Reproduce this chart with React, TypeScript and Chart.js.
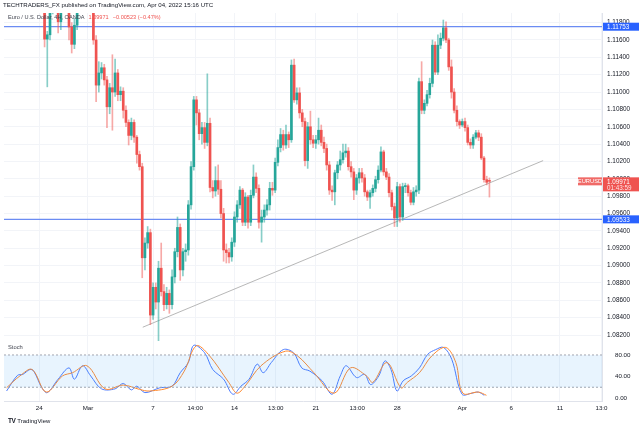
import React, { useEffect, useRef } from 'react';
import { Chart, registerables } from 'chart.js';

Chart.register(...registerables);

// ---------- DATA (4H candles, EUR/USD OANDA) ----------
const opens = [
  1.1330, 1.1325, 1.1337, 1.1348, 1.1340, 1.1328, 1.1338, 1.1330, 1.1345, 1.1325,
  1.1305, 1.1310, 1.1285, 1.1250, 1.1210, 1.1161, 1.1166, 1.1195, 1.1215, 1.1205,
  1.1181, 1.1200, 1.1228, 1.1240, 1.1175, 1.1155, 1.1177, 1.1200, 1.1228, 1.1222,
  1.1210, 1.1218, 1.1205, 1.1160, 1.1108, 1.1122, 1.1128, 1.1114, 1.1083, 1.1105,
  1.1100, 1.1122, 1.1097, 1.1101, 1.1079, 1.1065, 1.1050, 1.1065, 1.1048, 1.1028,
  1.1014, 1.0909, 1.0926, 1.0938, 1.0843, 1.0875, 1.0858, 1.0897, 1.0870, 1.0855,
  1.0868, 1.0855, 1.0887, 1.0916, 1.0944, 1.0895, 1.0916, 1.0918, 1.0970, 1.1014,
  1.1091, 1.1076, 1.1052, 1.1059, 1.1042, 1.1064, 1.0990, 1.0986, 1.0998, 1.0988,
  1.0960, 1.0918, 1.0915, 1.0910, 1.0927, 1.0956, 1.0970, 1.0987, 1.0950, 1.0979,
  1.0950, 1.0981, 1.1002, 1.0989, 1.0950, 1.0956, 1.0964, 1.0970, 1.0989, 1.0987,
  1.1019, 1.1036, 1.1051, 1.1039, 1.1051, 1.1045, 1.1131, 1.1091, 1.1099, 1.1076,
  1.1066, 1.1021, 1.1060, 1.1045, 1.1041, 1.1045, 1.1056, 1.1042, 1.1035, 1.1016,
  1.0987, 1.0985, 1.1007, 1.1016, 1.1022, 1.1030, 1.1032, 1.1014, 1.1008, 1.0987,
  1.1001, 1.1007, 1.1001, 1.0985, 1.0979, 1.0984, 1.0989, 1.0999, 1.1010, 1.1031,
  1.1008, 1.1002, 1.0984, 1.0968, 1.0955, 1.0991, 1.0956, 1.0991, 1.0992, 1.0984,
  1.0973, 1.0985, 1.0987, 1.1112, 1.1079, 1.1087, 1.1097, 1.1110, 1.1154, 1.1123,
  1.1154, 1.1162, 1.1174, 1.1160, 1.1129, 1.1100, 1.1079, 1.1066, 1.1062, 1.1066,
  1.1059, 1.1042, 1.1039, 1.1048, 1.1053, 1.1048, 1.1024, 1.0999, 1.0998,
];
const highs = [
  1.1345, 1.1340, 1.1355, 1.1360, 1.1350, 1.1342, 1.1350, 1.1348, 1.1352, 1.1330,
  1.1318, 1.1315, 1.1295, 1.1262, 1.1225, 1.1170, 1.1205, 1.1225, 1.1240, 1.1212,
  1.1215, 1.1235, 1.1250, 1.1255, 1.1180, 1.1185, 1.1212, 1.1235, 1.1245, 1.1235,
  1.1225, 1.1230, 1.1215, 1.1165, 1.1135, 1.1134, 1.1132, 1.1118, 1.1110, 1.1143,
  1.1138, 1.1126, 1.1106, 1.1105, 1.1084, 1.1068, 1.1070, 1.1068, 1.1050, 1.1032,
  1.1018, 1.0932, 1.0945, 1.0942, 1.0880, 1.0880, 1.0905, 1.0926, 1.0878, 1.0875,
  1.0872, 1.0895, 1.0920, 1.0956, 1.0948, 1.0920, 1.0925, 1.0975, 1.1020, 1.1095,
  1.1095, 1.1080, 1.1065, 1.1065, 1.1121, 1.1070, 1.0998, 1.1014, 1.1016, 1.0998,
  1.0966, 1.0925, 1.0920, 1.0932, 1.0962, 1.0975, 1.0991, 1.0989, 1.0984, 1.0981,
  1.0987, 1.1016, 1.1007, 1.0993, 1.0964, 1.0970, 1.0976, 1.0996, 1.0996, 1.1024,
  1.1045, 1.1058, 1.1056, 1.1062, 1.1054, 1.1137, 1.1138, 1.1105, 1.1105, 1.1080,
  1.1070, 1.1065, 1.1078, 1.1050, 1.1050, 1.1070, 1.1062, 1.1048, 1.1040, 1.1020,
  1.0992, 1.1010, 1.1020, 1.1032, 1.1040, 1.1040, 1.1036, 1.1020, 1.1012, 1.1005,
  1.1012, 1.1012, 1.1005, 1.0987, 1.0987, 1.0993, 1.1003, 1.1015, 1.1037, 1.1033,
  1.1012, 1.1006, 1.0987, 1.0972, 1.0996, 1.0994, 1.0995, 1.0995, 1.0994, 1.0987,
  1.0990, 1.0992, 1.1116, 1.1135, 1.1091, 1.1102, 1.1116, 1.1160, 1.1158, 1.1166,
  1.1168, 1.1183, 1.1181, 1.1162, 1.1137, 1.1104, 1.1084, 1.1068, 1.1069, 1.1070,
  1.1062, 1.1046, 1.1051, 1.1056, 1.1056, 1.1052, 1.1026, 1.1003, 1.1001,
];
const lows = [
  1.1318, 1.1320, 1.1330, 1.1335, 1.1322, 1.1318, 1.1325, 1.1326, 1.1320, 1.1298,
  1.1290, 1.1275, 1.1240, 1.1195, 1.1152, 1.1106, 1.1160, 1.1190, 1.1200, 1.1168,
  1.1172, 1.1195, 1.1215, 1.1160, 1.1145, 1.1150, 1.1172, 1.1195, 1.1215, 1.1200,
  1.1198, 1.1195, 1.1155, 1.1089, 1.1100, 1.1115, 1.1108, 1.1059, 1.1075, 1.1056,
  1.1095, 1.1090, 1.1090, 1.1070, 1.1060, 1.1039, 1.1045, 1.1042, 1.1018, 1.1010,
  1.0886, 1.0895, 1.0920, 1.0832, 1.0838, 1.0850, 1.0808, 1.0865, 1.0848, 1.0850,
  1.0845, 1.0850, 1.0880, 1.0910, 1.0883, 1.0888, 1.0905, 1.0912, 1.0965, 1.1010,
  1.1062, 1.1045, 1.1040, 1.1035, 1.1038, 1.0985, 1.0978, 1.0980, 1.0982, 1.0955,
  1.0905, 1.0903, 1.0903, 1.0905, 1.0922, 1.0950, 1.0966, 1.0946, 1.0946, 1.0943,
  1.0946, 1.0978, 1.0984, 1.0943, 1.0927, 1.0950, 1.0958, 1.0964, 1.0981, 1.0984,
  1.1015, 1.1031, 1.1033, 1.1035, 1.1036, 1.1042, 1.1088, 1.1086, 1.1070, 1.1060,
  1.1015, 1.1012, 1.1040, 1.1036, 1.1035, 1.1040, 1.1038, 1.1030, 1.1010, 1.0982,
  1.0975, 1.0970, 1.1000, 1.1010, 1.1018, 1.1025, 1.1010, 1.1002, 1.0976, 1.0982,
  1.0995, 1.0996, 1.0980, 1.0975, 1.0966, 1.0980, 1.0985, 1.0995, 1.1008, 1.1004,
  1.0999, 1.0979, 1.0964, 1.0945, 1.0945, 1.0950, 1.0952, 1.0984, 1.0980, 1.0970,
  1.0970, 1.0980, 1.0983, 1.1075, 1.1075, 1.1084, 1.1093, 1.1106, 1.1120, 1.1120,
  1.1150, 1.1159, 1.1157, 1.1125, 1.1093, 1.1076, 1.1061, 1.1058, 1.1060, 1.1055,
  1.1039, 1.1035, 1.1035, 1.1046, 1.1044, 1.1022, 1.0996, 1.0993, 1.0979,
];
const closes = [
  1.1325, 1.1337, 1.1348, 1.1340, 1.1328, 1.1338, 1.1330, 1.1345, 1.1325, 1.1305,
  1.1310, 1.1285, 1.1250, 1.1210, 1.1161, 1.1166, 1.1195, 1.1215, 1.1205, 1.1181,
  1.1200, 1.1228, 1.1240, 1.1175, 1.1155, 1.1177, 1.1200, 1.1228, 1.1222, 1.1210,
  1.1218, 1.1205, 1.1160, 1.1108, 1.1122, 1.1128, 1.1114, 1.1083, 1.1105, 1.1100,
  1.1122, 1.1097, 1.1101, 1.1079, 1.1065, 1.1050, 1.1065, 1.1048, 1.1028, 1.1014,
  1.0909, 1.0926, 1.0938, 1.0843, 1.0875, 1.0858, 1.0897, 1.0870, 1.0855, 1.0868,
  1.0855, 1.0887, 1.0916, 1.0944, 1.0895, 1.0916, 1.0918, 1.0970, 1.1014, 1.1091,
  1.1076, 1.1052, 1.1059, 1.1042, 1.1064, 1.0990, 1.0986, 1.0998, 1.0988, 1.0960,
  1.0918, 1.0915, 1.0910, 1.0927, 1.0956, 1.0970, 1.0987, 1.0950, 1.0979, 1.0950,
  1.0981, 1.1002, 1.0989, 1.0950, 1.0956, 1.0964, 1.0970, 1.0989, 1.0987, 1.1019,
  1.1036, 1.1051, 1.1039, 1.1051, 1.1045, 1.1131, 1.1091, 1.1099, 1.1076, 1.1066,
  1.1021, 1.1060, 1.1045, 1.1041, 1.1045, 1.1056, 1.1042, 1.1035, 1.1016, 1.0987,
  1.0985, 1.1007, 1.1016, 1.1022, 1.1030, 1.1032, 1.1014, 1.1008, 1.0987, 1.1001,
  1.1007, 1.1001, 1.0985, 1.0979, 1.0984, 1.0989, 1.0999, 1.1010, 1.1031, 1.1008,
  1.1002, 1.0984, 1.0968, 1.0955, 1.0991, 1.0956, 1.0991, 1.0992, 1.0984, 1.0973,
  1.0985, 1.0987, 1.1112, 1.1079, 1.1087, 1.1097, 1.1110, 1.1154, 1.1123, 1.1154,
  1.1162, 1.1174, 1.1160, 1.1129, 1.1100, 1.1079, 1.1066, 1.1062, 1.1066, 1.1059,
  1.1042, 1.1039, 1.1048, 1.1053, 1.1048, 1.1024, 1.0999, 1.0996, 1.09971,
];

// Stochastic (%K blue, %D orange), read at candle indices
const stochKIdx = [0, 4, 6, 8.6, 10, 13, 15, 19, 23, 25, 28, 31, 35, 40, 43, 46, 48, 51, 56.5, 61, 64, 67, 69, 73, 76, 80, 83.4, 86.4, 89.4, 92.4, 94.6, 97.6, 102, 105.8, 108.8, 111.8, 116.3, 120, 123, 125.2, 129, 132, 134.2, 137.2, 139.5, 141.7, 143.9, 146.2, 149.2, 152.2, 155.2, 158.2, 161.1, 164.1, 167.9, 171.6, 173.9, 176.1];
const stochK = [13, 42, 44, 53, 50, 19, 10, 35, 56, 35, 60, 41, 17, 17, 27, 15, 22, 10, 19, 22, 47, 66, 98, 84, 53, 35, 7, 22, 35, 63, 47, 66, 90, 84, 56, 50, 32, 7, 41, 60, 38, 44, 25, 41, 69, 53, 13, 32, 41, 56, 81, 90, 94, 72, 7, 9, 11, 5];
const stochDIdx = [0, 4.9, 9.4, 14.6, 20.6, 24.3, 29.6, 36.3, 43, 49, 52.7, 61, 65.5, 69.9, 74.4, 81.9, 84.9, 87.9, 93.8, 102.8, 107.3, 113.3, 120.8, 126.8, 132.7, 135, 140.2, 145.4, 147.7, 152.2, 156.7, 161.9, 165.6, 168.2, 173.9, 176.9];
const stochD = [19, 41, 53, 11, 41, 47, 60, 17, 24, 16, 13, 22, 50, 97, 81, 29, 9, 22, 60, 87, 78, 47, 9, 56, 41, 29, 66, 19, 29, 47, 78, 94, 66, 9, 11, 5];
const stochBand = [80, 20];
const stochTicks = [0, 40, 80];

// Drawings
const levelPrices = [1.11753, 1.09533];
const trendIdx = [50.2, 197.8];
const trendPrice = [1.0829, 1.1021];

// Time axis labels (at candle indices)
const xTickIdx = [12, 30, 54, 69.5, 84, 99.25, 114, 129.25, 144, 168, 186, 204, 219.3];
const xTickLabels = ['24', 'Mar', '7', '14:00', '14', '13:00', '21', '13:00', '28', 'Apr', '6', '11', '13:0'];

const symbol = 'EURUSD';
const lastPrice = 1.09971;
const countdown = '01:43:59';
const changeText = '\u22120.00523 (\u22120.47%)';

// ---------- STYLE ----------
const FONT = '"Liberation Sans", Arial, sans-serif';
const UP = '#26a69a';
const DOWN = '#ef5350';
const GRID = '#f2f4f8';
const BORDER = '#e0e3eb';
const TEXT = '#131722';
const X_MIN = -0.96;
const X_MAX = 219.5;
const P_MIN = 1.08131;
const P_MAX = 1.11911;

const tagPlugin = {
  id: 'tags',
  afterDraw(chart: any) {
    const ctx = chart.ctx;
    const ys = chart.scales.y;
    const right = chart.chartArea.right;
    ctx.save();
    ctx.font = `6.3px ${FONT}`;
    ctx.textBaseline = 'middle';
    ctx.textAlign = 'left';
    levelPrices.forEach((p) => {
      const py = ys.getPixelForValue(p);
      ctx.fillStyle = '#2962ff';
      ctx.fillRect(right + 1, py - 4, 640 - right - 2, 8);
      ctx.fillStyle = '#ffffff';
      ctx.fillText(p.toFixed(5), right + 5, py + 0.5);
    });
    const ly = ys.getPixelForValue(lastPrice);
    ctx.fillStyle = DOWN;
    ctx.fillRect(right + 1, ly - 4, 640 - right - 2, 14);
    ctx.fillStyle = '#ffffff';
    ctx.fillText(lastPrice.toFixed(5), right + 5, ly + 0.5);
    ctx.fillStyle = 'rgba(255,255,255,0.85)';
    ctx.fillText(countdown, right + 5, ly + 6.5);
    ctx.fillStyle = '#f06a67';
    ctx.fillRect(right - 24, ly - 4, 24, 8);
    ctx.fillStyle = '#ffffff';
    ctx.textAlign = 'center';
    ctx.font = `5.8px ${FONT}`;
    ctx.fillText(symbol, right - 12, ly + 0.5);
    ctx.restore();
  },
};

export default function App() {
  const priceRef = useRef<HTMLCanvasElement>(null);
  const stochRef = useRef<HTMLCanvasElement>(null);

  useEffect(() => {
    const isUp = closes.map((c, i) => c >= opens[i]);
    const bodyColors = isUp.map((u) => (u ? UP : DOWN));
    const wickColors = isUp.map((u) => (u ? 'rgba(38,166,154,0.55)' : 'rgba(239,83,80,0.5)'));

    const xTickSetter = (s: any) => {
      s.ticks = xTickIdx.map((v) => ({ value: v }));
    };

    const priceChart = new Chart(priceRef.current as HTMLCanvasElement, {
      type: 'bar',
      data: {
        datasets: [
          {
            type: 'bar',
            data: closes.map((c, i) => ({ x: i, y: [opens[i], c] })) as any,
            backgroundColor: bodyColors,
            barThickness: 2,
            minBarLength: 1,
            grouped: false,
            borderWidth: 0,
            order: 1,
          } as any,
          {
            type: 'bar',
            data: closes.map((_, i) => ({ x: i, y: [lows[i], highs[i]] })) as any,
            backgroundColor: wickColors,
            barThickness: 1,
            grouped: false,
            borderWidth: 0,
            order: 2,
          } as any,
          {
            type: 'line',
            data: trendIdx.map((x, k) => ({ x, y: trendPrice[k] })),
            borderColor: 'rgba(175,175,175,0.9)',
            borderWidth: 1,
            pointRadius: 0,
            order: 3,
          } as any,
          ...levelPrices.map(
            (p) =>
              ({
                type: 'line',
                data: [
                  { x: X_MIN, y: p },
                  { x: X_MAX, y: p },
                ],
                borderColor: '#6b8cf3',
                borderWidth: 1.3,
                pointRadius: 0,
                order: 4,
              }) as any
          ),
        ],
      },
      options: {
        animation: false,
        responsive: false,
        maintainAspectRatio: false,
        events: [],
        layout: { padding: { top: 13, left: 4, right: 0, bottom: 0 } },
        plugins: { legend: { display: false }, tooltip: { enabled: false } },
        scales: {
          x: {
            type: 'linear',
            min: X_MIN,
            max: X_MAX,
            offset: false,
            grid: { color: GRID, drawTicks: false, offset: false },
            border: { display: true, color: BORDER },
            ticks: { display: false },
            afterBuildTicks: xTickSetter,
            afterFit: (s: any) => {
              s.height = 0;
              s.paddingLeft = 0;
              s.paddingRight = 0;
            },
          },
          y: {
            position: 'right',
            min: P_MIN,
            max: P_MAX,
            grid: { color: GRID, drawTicks: false },
            border: { display: true, color: BORDER },
            ticks: {
              stepSize: 0.002,
              includeBounds: false,
              padding: 5,
              color: TEXT,
              font: { size: 6.4, family: FONT },
              callback: (v: any) => Number(v).toFixed(5),
            },
            afterFit: (s: any) => {
              s.width = 38;
              s.paddingTop = 0;
              s.paddingBottom = 0;
            },
          },
        } as any,
      },
      plugins: [tagPlugin],
    });

    const stochChart = new Chart(stochRef.current as HTMLCanvasElement, {
      type: 'line',
      data: {
        datasets: [
          {
            data: [
              { x: X_MIN, y: stochBand[0] },
              { x: X_MAX, y: stochBand[0] },
            ],
            borderColor: '#a3a6af',
            borderDash: [2, 2],
            borderWidth: 1,
            pointRadius: 0,
            fill: '+1',
            backgroundColor: 'rgba(33,150,243,0.1)',
          },
          {
            data: [
              { x: X_MIN, y: stochBand[1] },
              { x: X_MAX, y: stochBand[1] },
            ],
            borderColor: '#a3a6af',
            borderDash: [2, 2],
            borderWidth: 1,
            pointRadius: 0,
            fill: false,
          },
          {
            data: stochDIdx.map((x, k) => ({ x, y: stochD[k] })),
            borderColor: '#ff8a30',
            borderWidth: 1,
            pointRadius: 0,
            tension: 0.35,
            fill: false,
          },
          {
            data: stochKIdx.map((x, k) => ({ x, y: stochK[k] })),
            borderColor: '#4d7cfe',
            borderWidth: 1,
            pointRadius: 0,
            tension: 0.35,
            fill: false,
          },
        ] as any,
      },
      options: {
        animation: false,
        responsive: false,
        maintainAspectRatio: false,
        events: [],
        layout: { padding: { top: 0, left: 4, right: 0, bottom: 0 } },
        plugins: { legend: { display: false }, tooltip: { enabled: false } },
        scales: {
          x: {
            type: 'linear',
            min: X_MIN,
            max: X_MAX,
            grid: { color: GRID, drawTicks: false },
            border: { display: true, color: BORDER },
            afterBuildTicks: xTickSetter,
            ticks: {
              autoSkip: false,
              maxRotation: 0,
              padding: 4,
              color: TEXT,
              font: { size: 6.2, family: FONT },
              callback: (_v: any, i: number) => xTickLabels[i],
            },
            afterFit: (s: any) => {
              s.height = 26;
              s.paddingLeft = 0;
              s.paddingRight = 0;
            },
          },
          y: {
            position: 'right',
            min: -5.6,
            max: 106,
            grid: { display: false },
            border: { display: true, color: BORDER },
            afterBuildTicks: (s: any) => {
              s.ticks = stochTicks.map((v) => ({ value: v }));
            },
            ticks: {
              padding: 5,
              color: TEXT,
              font: { size: 6.2, family: FONT },
              callback: (v: any) => Number(v).toFixed(2),
            },
            afterFit: (s: any) => {
              s.width = 38;
              s.paddingTop = 0;
              s.paddingBottom = 0;
            },
          },
        } as any,
      },
    });

    return () => {
      priceChart.destroy();
      stochChart.destroy();
    };
  }, []);

  const txt: React.CSSProperties = { position: 'absolute', whiteSpace: 'nowrap', lineHeight: 1 };

  return (
    <div
      style={{
        position: 'fixed',
        left: 0,
        top: 0,
        width: 640,
        height: 427,
        background: '#ffffff',
        overflow: 'hidden',
        fontFamily: FONT,
      }}
    >
      <canvas ref={priceRef} width={640} height={341} style={{ position: 'absolute', left: 0, top: 0, width: 640, height: 341 }} />
      <canvas ref={stochRef} width={640} height={86} style={{ position: 'absolute', left: 0, top: 341, width: 640, height: 86 }} />
      <div style={{ ...txt, left: 3, top: 2, fontSize: 6.1, color: TEXT }}>
        TECHTRADERS_FX published on TradingView.com, Apr 04, 2022 15:16 UTC
      </div>
      <div style={{ ...txt, left: 8, top: 15, fontSize: 5.6, color: '#434651' }}>
        Euro / U.S. Dollar, 4H, OANDA
        <span style={{ color: DOWN, marginLeft: 4 }}>{lastPrice.toFixed(5)}</span>
        <span style={{ color: DOWN, marginLeft: 4 }}>{changeText}</span>
      </div>
      <div style={{ ...txt, left: 8, top: 345, fontSize: 5.8, color: '#434651' }}>Stoch</div>
      <div style={{ ...txt, left: 8, top: 418, fontSize: 6, color: TEXT, display: 'flex', alignItems: 'center' }}>
        <span style={{ fontWeight: 700, fontSize: 6.5, marginRight: 2, letterSpacing: -0.5 }}>TV</span>
        <span>TradingView</span>
      </div>
    </div>
  );
}
